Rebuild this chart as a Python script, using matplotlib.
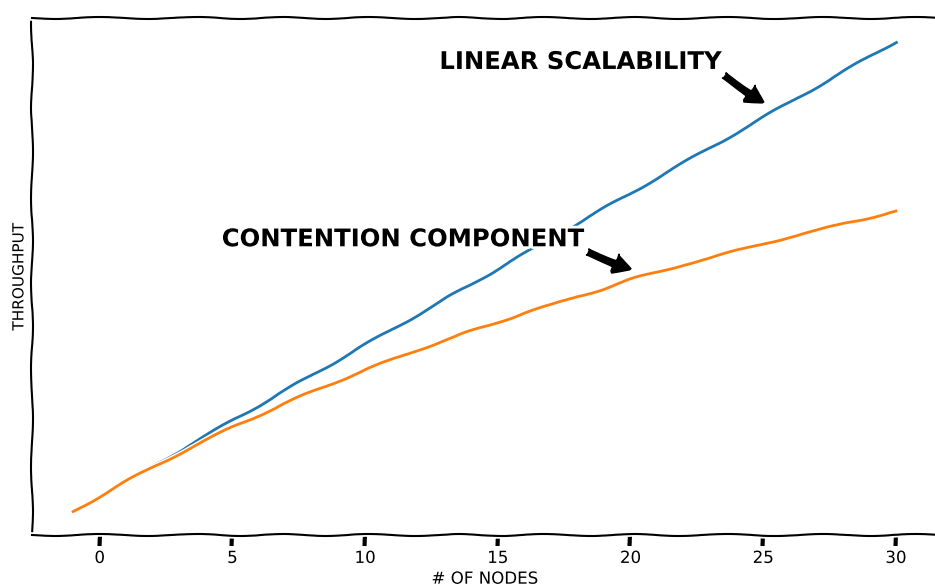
"""
Linear scalability vs. contention component, xkcd style.
"""

import matplotlib
matplotlib.use("Agg")
import matplotlib.pyplot as plt

# ── data ──────────────────────────────────────────────────────────────────────
NODES = list(range(-1, 31))
LINEAR = [-1, 0, 1, 2, 3, 4, 5, 6, 7, 8, 9, 10, 11, 12, 13, 14, 15,
          16, 17, 18, 19, 20, 21, 22, 23, 24, 25, 26, 27, 28, 29, 30]
CONTENTION = [-1.0, 0.0, 0.98, 1.92, 2.83, 3.70, 4.55, 5.36, 6.14, 6.90,
              7.63, 8.33, 9.00, 9.68, 10.30, 10.90, 11.50, 12.10, 12.60,
              13.20, 13.70, 14.30, 14.80, 15.30, 15.70, 16.20, 16.70,
              17.10, 17.50, 18.00, 18.40, 18.80]
XTICKS = [0, 5, 10, 15, 20, 25, 30]

# ── annotations: (text, arrow tip, text anchor) ──────────────────────────────
NOTES = [
    ("LINEAR SCALABILITY", (25, 26), (12.8, 28.2)),
    ("CONTENTION COMPONENT", (20, 15), (4.6, 16.5)),
]


def main() -> None:
    with plt.xkcd():
        plt.rcParams["font.family"] = ["DejaVu Sans"]
        fig = plt.figure(figsize=(9.35, 5.86), dpi=100)
        ax = fig.add_axes([0.0342, 0.087, 0.968, 0.882])

        ax.plot(NODES, LINEAR, color="#1f77b4")
        ax.plot(NODES, CONTENTION, color="#ff7f0e")

        ax.set_xticks(XTICKS)
        ax.set_yticks([])
        ax.tick_params(axis="x", labelsize=12, pad=2)

        for text, tip, anchor in NOTES:
            ax.annotate(text, xy=tip, xytext=anchor, fontsize=17.5,
                        fontweight="bold",
                        arrowprops=dict(facecolor="black", shrink=0.0,
                                        width=5, headwidth=14, headlength=12))

        ax.set_xlabel("# OF NODES", fontsize=12, labelpad=2)
        ax.set_ylabel("THROUGHPUT", fontsize=11)

        fig.savefig("out.png", dpi=100)


if __name__ == "__main__":
    main()
